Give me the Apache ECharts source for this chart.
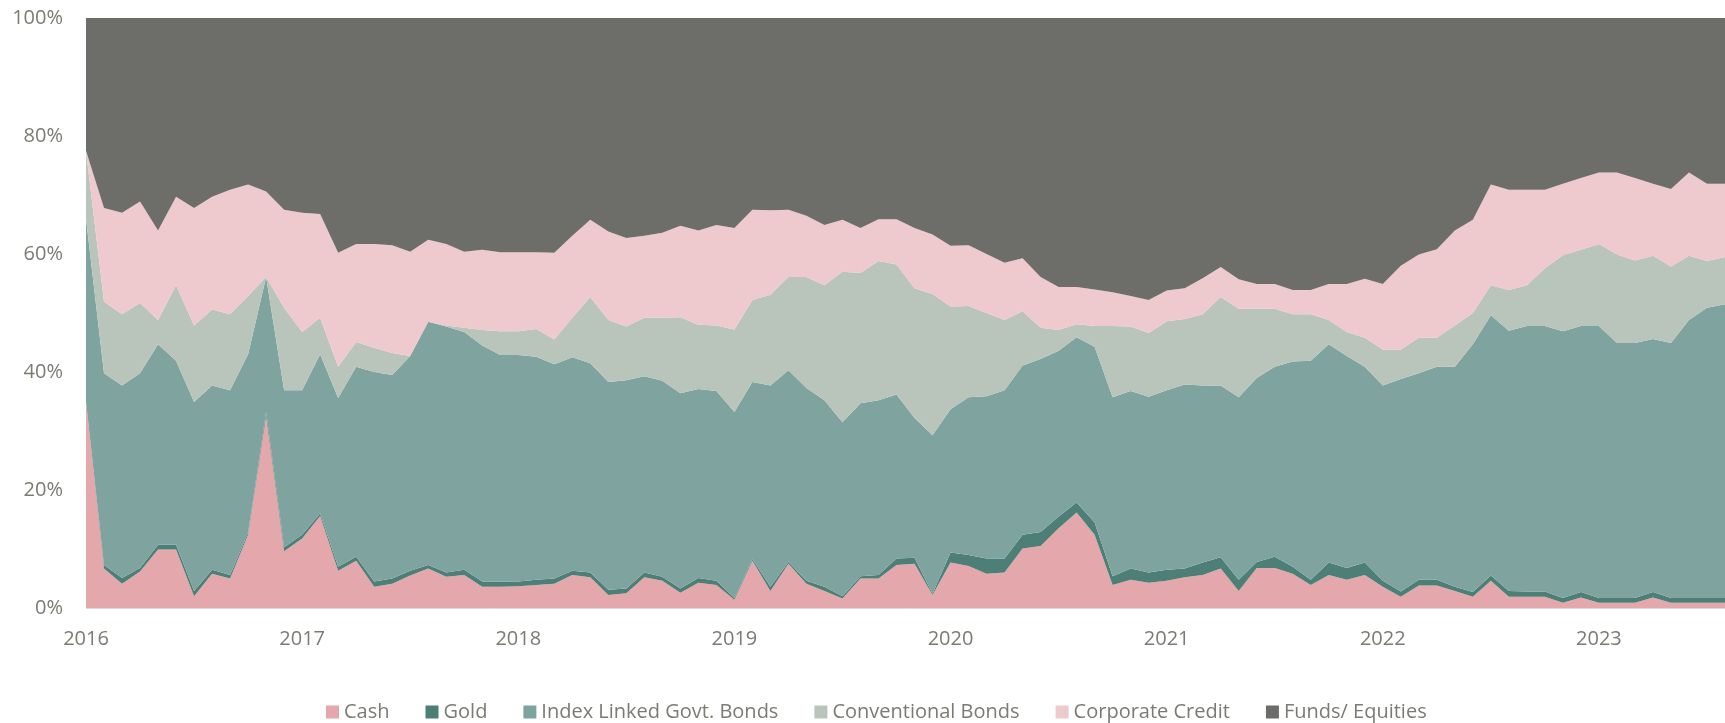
<!DOCTYPE html>
<html>
<head>
<meta charset="utf-8">
<script src="https://cdn.jsdelivr.net/npm/echarts@6/dist/echarts.min.js"></script>
<style>
  html, body { margin: 0; padding: 0; background: #fff; }
  #chart { width: 1725px; height: 723px; }
</style>
</head>
<body>
<div id="chart"></div>
<script>
// monthly allocation, % of portfolio, Jan 2016 .. Aug 2023
var cash = [35.0, 6.7, 4.1, 6.2, 9.9, 9.9, 2.0, 5.8, 5.0, 12.4, 32.5, 9.6,
    11.8, 15.6, 6.3, 8.0, 3.6, 4.1, 5.5, 6.7, 5.3, 5.6, 3.6, 3.6,
    3.7, 3.9, 4.1, 5.6, 5.2, 2.2, 2.5, 5.2, 4.6, 2.6, 4.3, 3.9,
    1.4, 8.0, 2.9, 7.5, 4.1, 2.9, 1.6, 5.0, 5.0, 7.3, 7.5, 2.2,
    7.7, 7.1, 5.8, 6.0, 10.1, 10.5, 13.5, 16.2, 12.4, 3.9, 4.8, 4.3,
    4.6, 5.2, 5.6, 6.7, 2.9, 6.8, 6.8, 5.8, 3.9, 5.6, 4.8, 5.6,
    3.6, 1.9, 3.8, 3.8, 2.9, 1.9, 4.6, 1.9, 1.9, 1.9, 0.9, 1.8,
    0.9, 0.9, 0.9, 1.8, 0.9, 0.9, 0.9, 0.9];
var gold = [0.0, 0.6, 1.0, 0.6, 0.8, 0.8, 0.9, 0.7, 0.6, 0.4, 0.7, 0.7,
    0.6, 0.4, 0.7, 0.7, 0.9, 0.9, 0.8, 0.6, 0.7, 0.9, 0.9, 0.9,
    0.8, 0.9, 0.9, 0.7, 0.8, 0.9, 0.8, 0.8, 0.7, 0.7, 0.8, 0.7,
    0.3, 0.3, 0.7, 0.3, 0.5, 0.7, 0.4, 0.4, 0.6, 1.1, 1.0, 0.2,
    1.7, 1.9, 2.6, 2.4, 2.3, 2.4, 2.0, 1.7, 2.1, 1.5, 1.9, 1.7,
    1.9, 1.5, 2.1, 1.9, 1.9, 1.0, 1.9, 1.2, 0.9, 2.1, 2.0, 2.1,
    1.0, 0.9, 1.0, 1.0, 0.7, 0.8, 0.9, 1.0, 0.9, 0.9, 0.8, 0.9,
    0.8, 0.8, 0.8, 0.9, 0.8, 0.8, 0.8, 0.8];
var indexLinked = [31.0, 32.5, 32.6, 33.0, 34.0, 31.2, 32.0, 31.2, 31.3, 30.2, 22.9, 26.6,
    24.5, 27.0, 28.6, 32.2, 35.5, 34.5, 36.4, 41.2, 41.7, 40.3, 40.0, 38.4,
    38.4, 37.8, 36.3, 36.2, 35.5, 35.2, 35.3, 33.3, 33.2, 33.1, 32.0, 32.2,
    31.5, 30.0, 34.1, 32.5, 32.7, 31.6, 29.5, 29.3, 29.6, 27.8, 23.7, 26.9,
    24.3, 26.7, 27.5, 28.5, 28.7, 29.3, 28.1, 28.0, 29.8, 30.3, 30.1, 29.8,
    30.4, 31.2, 30.0, 29.1, 30.9, 31.2, 32.2, 34.8, 37.1, 37.0, 35.9, 33.2,
    33.1, 36.0, 35.0, 36.1, 37.3, 42.0, 44.1, 44.1, 45.0, 45.0, 45.2, 45.1,
    46.1, 43.2, 43.2, 42.9, 43.2, 47.1, 49.2, 49.8];
var conventional = [11.5, 12.1, 12.1, 11.9, 4.1, 12.8, 13.0, 12.9, 12.9, 9.9, 0.0, 14.0,
    9.9, 6.2, 5.3, 4.2, 4.1, 3.7, 0.0, 0.0, 0.2, 0.7, 2.6, 4.0,
    4.0, 4.7, 4.2, 6.7, 11.2, 10.5, 9.1, 9.9, 10.7, 12.9, 10.9, 11.1,
    14.0, 13.9, 15.4, 15.8, 18.8, 19.5, 25.5, 22.1, 23.6, 22.0, 22.0, 23.9,
    17.4, 15.5, 14.1, 11.9, 9.2, 5.3, 3.5, 2.2, 3.5, 12.1, 10.9, 10.8,
    11.7, 11.1, 12.1, 15.0, 15.0, 11.7, 9.8, 8.0, 7.9, 4.1, 4.1, 4.9,
    6.1, 5.0, 6.0, 4.9, 7.0, 5.3, 5.1, 6.9, 6.9, 9.8, 12.9, 12.9,
    13.9, 15.0, 14.0, 14.1, 13.0, 10.9, 7.9, 8.0];
var corporate = [0.0, 15.9, 17.2, 17.2, 15.2, 15.0, 19.9, 19.1, 21.1, 18.9, 14.5, 16.6,
    20.2, 17.6, 19.3, 16.6, 17.6, 18.3, 17.7, 13.9, 13.8, 12.9, 13.6, 13.4,
    13.4, 13.0, 14.7, 13.9, 13.1, 15.0, 15.0, 13.9, 14.4, 15.5, 16.0, 17.0,
    17.2, 15.3, 14.3, 11.4, 10.4, 10.2, 8.8, 7.6, 7.1, 7.7, 10.2, 10.1,
    10.3, 10.3, 10.0, 9.7, 9.0, 8.6, 7.3, 6.3, 6.2, 5.7, 5.2, 5.6,
    5.2, 5.2, 6.1, 5.1, 5.0, 4.2, 4.2, 4.1, 4.1, 6.1, 8.1, 10.0,
    11.1, 14.2, 14.1, 15.0, 16.1, 15.8, 17.1, 17.0, 16.2, 13.3, 12.1, 12.2,
    12.1, 13.9, 14.0, 12.2, 13.1, 14.1, 13.1, 12.4];
var funds = [22.5, 32.2, 33.0, 31.1, 36.0, 30.3, 32.2, 30.3, 29.1, 28.2, 29.4, 32.5,
    33.0, 33.2, 39.8, 38.3, 38.3, 38.5, 39.6, 37.6, 38.3, 39.6, 39.3, 39.7,
    39.7, 39.7, 39.8, 36.9, 34.2, 36.2, 37.3, 36.9, 36.4, 35.2, 36.0, 35.1,
    35.6, 32.5, 32.6, 32.5, 33.5, 35.1, 34.2, 35.6, 34.1, 34.1, 35.6, 36.7,
    38.6, 38.5, 40.0, 41.5, 40.7, 43.9, 45.6, 45.6, 46.0, 46.5, 47.1, 47.8,
    46.2, 45.8, 44.1, 42.2, 44.3, 45.1, 45.1, 46.1, 46.1, 45.1, 45.1, 44.2,
    45.1, 42.0, 40.1, 39.2, 36.0, 34.2, 28.2, 29.1, 29.1, 29.1, 28.1, 27.1,
    26.2, 26.2, 27.1, 28.1, 29.0, 26.2, 28.1, 28.1];

var seriesNames = ['Cash', 'Gold', 'Index Linked Govt. Bonds', 'Conventional Bonds', 'Corporate Credit', 'Funds/ Equities'];
var seriesColors = ['#E4A7AB', '#4D7F77', '#7FA39F', '#B9C4BB', '#EEC9CD', '#6D6E69'];
var seriesData = [cash, gold, indexLinked, conventional, corporate, funds];

// one category per month, starting Jan 2016
var months = [];
for (var i = 0; i < cash.length; i++) {
    var y = 2016 + Math.floor(i / 12);
    var m = (i % 12) + 1;
    months.push(y + '-' + (m < 10 ? '0' + m : m));
}

var myChart = echarts.init(document.getElementById('chart'));

var series = [];
for (var k = 0; k < seriesNames.length; k++) {
    series.push({
        name: seriesNames[k],
        type: 'line',
        stack: 'total',
        data: seriesData[k],
        showSymbol: false,
        symbol: 'none',
        lineStyle: { width: 0 },
        areaStyle: { color: seriesColors[k], opacity: 1 },
        itemStyle: { color: seriesColors[k] }
    });
}

var labelColor = '#7b7b74';

var option = {
    animation: false,
    backgroundColor: '#ffffff',
    textStyle: { fontFamily: 'Open Sans' },
    grid: { left: 86, right: 0, top: 18, bottom: 115 },
    legend: {
        top: 702,
        left: 326,
        padding: 0,
        icon: 'rect',
        itemWidth: 13,
        itemHeight: 13,
        itemGap: 36,
        textStyle: { color: labelColor, fontSize: 20, fontFamily: 'Open Sans' },
        data: seriesNames
    },
    xAxis: {
        type: 'category',
        boundaryGap: false,
        data: months,
        axisLine: { show: false },
        axisTick: { show: false },
        axisLabel: {
            color: labelColor,
            fontSize: 20,
            margin: 21,
            interval: function (index) { return index % 12 === 0; },
            formatter: function (v) { return v.slice(0, 4); }
        },
        splitLine: { show: false }
    },
    yAxis: {
        type: 'value',
        min: 0,
        max: 100,
        interval: 20,
        axisLine: { show: false },
        axisTick: { show: false },
        axisLabel: {
            color: labelColor,
            fontSize: 20,
            margin: 23,
            formatter: '{value}%'
        },
        splitLine: { show: true, lineStyle: { color: '#d9d9d9', width: 1 } }
    },
    series: series
};

myChart.setOption(option);
</script>
</body>
</html>
